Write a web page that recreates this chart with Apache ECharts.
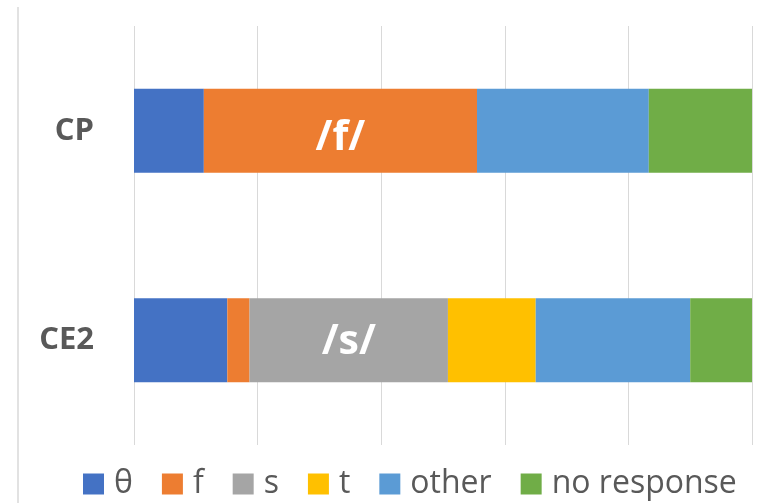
<!DOCTYPE html>
<html>
<head>
<meta charset="utf-8">
<script src="https://cdn.jsdelivr.net/npm/echarts@6/dist/echarts.min.js"></script>
<style>
  html, body { margin: 0; padding: 0; background: #fff; }
  #chart { width: 757px; height: 503px; }
</style>
</head>
<body>
<div id="chart"></div>
<script>
// Responses per condition, in percent of answers
const categories = ['CE2', 'CP'];
const seriesNames = ['θ', 'f', 's', 't', 'other', 'no response'];
const theta      = [15.1, 11.3];
const fResp      = [3.6, 44.2];
const sResp      = [32.1, 0];
const tResp      = [14.2, 0];
const other      = [25.0, 27.8];
const noResponse = [10.0, 16.7];
// Target sound written inside the matching segment
const fTarget = ['', '/f/'];
const sTarget = ['/s/', ''];

const colors = ['#4472C4', '#ED7D31', '#A5A5A5', '#FFC000', '#5B9BD5', '#70AD47'];
const values = [theta, fResp, sResp, tResp, other, noResponse];
const targets = [null, fTarget, sTarget, null, null, null];
const labelShift = [null, [0, 8], [0, 2], null, null, null];

const chart = echarts.init(document.getElementById('chart'));

const series = seriesNames.map((name, i) => ({
  name: name,
  type: 'bar',
  stack: 'total',
  barCategoryGap: '60%',
  itemStyle: { color: colors[i] },
  data: values[i].map((v, j) => {
    const txt = targets[i] ? targets[i][j] : '';
    return {
      value: v,
      label: {
        show: !!txt,
        position: 'inside',
        offset: labelShift[i] || [0, 0],
        formatter: txt,
        color: '#fff',
        fontFamily: 'Open Sans',
        fontWeight: 'bold',
        fontSize: 41
      }
    };
  })
}));

chart.setOption({
  animation: false,
  backgroundColor: '#fff',
  grid: { left: 134, right: 5, top: 26, bottom: 58, containLabel: false },
  xAxis: {
    type: 'value',
    min: 0, max: 100, interval: 20,
    axisLabel: { show: false },
    axisLine: { show: false },
    axisTick: { show: false },
    splitLine: { lineStyle: { color: '#d9d9d9', width: 1 } }
  },
  yAxis: {
    type: 'category',
    data: categories,
    axisLine: { show: false },
    axisTick: { show: false },
    axisLabel: {
      margin: 40,
      color: '#595959',
      fontFamily: 'Open Sans',
      fontWeight: 'bold',
      fontSize: 31
    }
  },
  legend: {
    bottom: -2,
    left: 78,
    itemWidth: 21,
    itemHeight: 21,
    itemGap: 29,
    icon: 'rect',
    textStyle: {
      color: '#595959',
      fontFamily: 'Open Sans',
      fontSize: 32,
      padding: [0, 0, 0, 5]
    },
    data: seriesNames
  },
  graphic: [{
    type: 'line',
    shape: { x1: 18, y1: 7, x2: 18, y2: 503 },
    style: { stroke: '#d9d9d9', lineWidth: 1.5 }
  }],
  series: series
});
</script>
</body>
</html>
